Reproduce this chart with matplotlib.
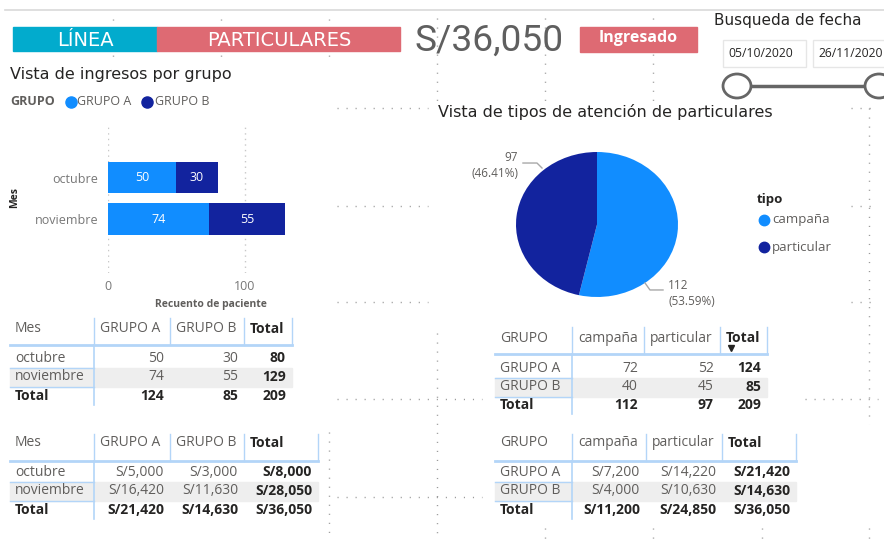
import matplotlib.pyplot as plt
from matplotlib.patches import Rectangle, Ellipse
import numpy as np

# Data

meses = ["octubre", "noviembre"]
grupos = ["GRUPO A", "GRUPO B"]
tipos = ["campaña", "particular"]

pacientes_grupo_a = [50, 74]        # per month
pacientes_grupo_b = [30, 55]
pacientes_campana = [72, 40]        # per group
pacientes_particular = [52, 45]
tipo_totales = [112, 97]

ingreso_grupo_a = [5000, 16420]     # per month
ingreso_grupo_b = [3000, 11630]
ingreso_campana = [7200, 4000]      # per group
ingreso_particular = [14220, 10630]

fechas = ["05/10/2020", "26/11/2020"]
x_ticks = [0, 100]

# Style

W, H = 884, 544
COL_A = "#118DFF"
COL_B = "#12239E"
CYAN = "#02ABCD"
ROSE = "#DE6A73"
GRAY_TXT = "#605E5C"
DARK = "#252423"
LINE_BLUE = "#B3D5F8"
BAND = "#EEEEEE"
DOT_GRAY = "#9A9A9A"

plt.rcParams["font.family"] = ["Open Sans", "DejaVu Sans"]
TITLE_FONT = ["DejaVu Sans"]

fig = plt.figure(figsize=(W / 100, H / 100), dpi=100)
cv = fig.add_axes([0, 0, 1, 1])
cv.set_xlim(0, W)
cv.set_ylim(H, 0)
cv.axis("off")


def px_axes(x0, y0, x1, y1):
    return fig.add_axes([x0 / W, 1 - y1 / H, (x1 - x0) / W, (y1 - y0) / H])


def dots(x0, y0, x1, y1):
    cv.plot([x0, x1], [y0, y1], color=DOT_GRAY, lw=1.0,
            linestyle=(0, (0.8, 5.7)), zorder=0)


def money(v):
    return f"S/{v:,}"


# Section 1: edit-mode dotted guides

for x in (113, 221, 329):
    dots(x, 19, x, 61)
for x in (437, 545, 653):
    dots(x, 18, x, 101)
for y in (108, 206, 302):
    dots(337, y, 428, y)
    dots(851, y, 878, y)
for y in (399, 497):
    dots(337, y, 482, y)
dots(805, 399, 878, 399)
dots(437, 333, 437, 540)
dots(329, 432, 329, 540)
dots(869, 108, 869, 424)
for x in (545, 653, 762, 869):
    dots(x, 528, x, 540)

cv.plot([5, W], [10, 10], color="#D9D9D9", lw=1.2)

# Section 2: header cards

cv.add_patch(Rectangle((13, 27), 144, 24, color=CYAN, zorder=2))
cv.add_patch(Rectangle((157, 27), 243, 24, color=ROSE, zorder=2))
cv.text(85.5, 40, "LÍNEA", color="white", fontsize=14, ha="center",
        va="center", family=TITLE_FONT, zorder=3)
cv.text(279, 40.5, "PARTICULARES", color="white", fontsize=14,
        ha="center", va="center", family=TITLE_FONT, zorder=3)

total_ingreso = sum(ingreso_grupo_a) + sum(ingreso_grupo_b)
cv.text(414, 41, money(total_ingreso), color="#5F5F5F", fontsize=26.7,
        ha="left", va="center", family=["Roboto"], zorder=3)

cv.add_patch(Rectangle((580, 27), 117, 25, color=ROSE, zorder=2))
cv.text(638, 38, "Ingresado", color="white", fontsize=11.5, weight="bold",
        ha="center", va="center", zorder=3)

# date slicer
cv.text(714, 21, "Busqueda de fecha", color=DARK, fontsize=11,
        ha="left", va="center", family=TITLE_FONT)
for bx, fecha in zip((723, 813), fechas):
    cv.add_patch(Rectangle((bx, 40), 83, 27, facecolor="white",
                           edgecolor="#E6E6E6", lw=1.0, zorder=2))
    cv.text(bx + 5, 53.5, fecha, color=DARK, fontsize=8.7, ha="left",
            va="center", zorder=3)
cv.plot([737, 879], [86, 86], color="#666666", lw=2.5, zorder=2)
for cx in (737, 879):
    cv.add_patch(Ellipse((cx, 86), 28, 24, facecolor="white",
                         edgecolor="#666666", lw=2, zorder=3))

# Section 3: bar chart - patients per month and group

cv.text(10, 74, "Vista de ingresos por grupo", color=DARK, fontsize=11.5,
        ha="left", va="center", family=TITLE_FONT)
cv.text(10, 101.5, "GRUPO", color=GRAY_TXT, fontsize=9, weight="bold",
        ha="left", va="center")
for (mx, tx), name, col in zip(((71, 77), (147, 155)), grupos, (COL_A, COL_B)):
    cv.plot(mx, 101.5, "o", color=col, ms=8)
    cv.text(tx, 101.5, name, color=GRAY_TXT, fontsize=9, ha="left",
            va="center")

axb = px_axes(108, 127, 314, 273)
axb.patch.set_alpha(0)
y = np.arange(len(meses))
bars_a = axb.barh(y, pacientes_grupo_a, height=0.76, color=COL_A)
bars_b = axb.barh(y, pacientes_grupo_b, left=pacientes_grupo_a, height=0.76,
                  color=COL_B)
for bars in (bars_a, bars_b):
    axb.bar_label(bars, label_type="center", color="white", fontsize=9)
axb.set_xlim(0, 150.5)
axb.set_ylim(2.30, -1.217)
axb.set_xticks(x_ticks)
axb.set_yticks(y, meses)
axb.grid(axis="x", linestyle=(0, (1, 3)), color="#C8C8C8", lw=1)
axb.set_axisbelow(True)
for s in axb.spines.values():
    s.set_visible(False)
axb.tick_params(length=0, labelsize=9, labelcolor="#777777")
axb.tick_params(axis="y", pad=7)
axb.tick_params(axis="x", pad=5)
axb.set_xlabel("Recuento de paciente", fontsize=7.5, color=GRAY_TXT,
               weight="bold", labelpad=4)
cv.text(15, 198, "Mes", rotation=90, fontsize=7.5, weight="bold",
        color=DARK, ha="center", va="center")

# Section 4: pie - attention types

cv.text(438, 111.5, "Vista de tipos de atención de particulares", color=DARK,
        fontsize=11.5, ha="left", va="center", family=TITLE_FONT)

axp = px_axes(516, 152, 678, 297)
axp.pie(tipo_totales, colors=[COL_A, COL_B], startangle=90,
        counterclock=False, radius=1)
axp.set_aspect("auto")
axp.set_xlim(-1, 1)
axp.set_ylim(-1, 1)
pct = [v / sum(tipo_totales) * 100 for v in tipo_totales]
axp.text(0.877, -0.955, f"{tipo_totales[0]}\n({pct[0]:.2f}%)", ha="left",
         va="center", color=GRAY_TXT, fontsize=8.5, linespacing=1.35,
         clip_on=False)
axp.plot([0.593, 0.654, 0.815], [-0.807, -0.903, -0.903], color="#A8A8A8",
         lw=1, clip_on=False)
axp.text(-0.975, 0.82, f"{tipo_totales[1]}\n({pct[1]:.2f}%)", ha="right",
         va="center", color=GRAY_TXT, fontsize=8.5, linespacing=1.3,
         multialignment="right", clip_on=False)
axp.plot([-0.914, -0.741, -0.679], [0.848, 0.848, 0.779], color="#A8A8A8",
         lw=1, clip_on=False)

cv.text(757, 200, "tipo", color=DARK, fontsize=9.5, weight="bold",
        ha="left", va="center")
for ly, name, col in zip((220, 247), tipos, (COL_A, COL_B)):
    cv.plot(764, ly, "o", color=col, ms=7.5)
    cv.text(772, ly, name, color=GRAY_TXT, fontsize=9.5, ha="left",
            va="center")


# Section 5: matrix tables

def draw_table(cols, head_y, head_bottom, rows_y, header, labels, data,
               fmt=str, sort_mark=False):
    x0, xr = cols[0], cols[-1]
    fs = 10
    # header separators
    for x in cols[1:]:
        cv.plot([x, x], [head_bottom - 27, head_bottom], color=LINE_BLUE,
                lw=1, zorder=2)
    cv.plot([x0, xr], [head_bottom, head_bottom], color=LINE_BLUE, lw=2,
            zorder=2)
    # band for second row
    cv.add_patch(Rectangle((x0, rows_y[1] - 9.5), xr - x0, 19, color=BAND,
                           zorder=1))
    for yy in (rows_y[1] - 9.5, rows_y[1] + 9.5):
        cv.plot([x0, cols[1]], [yy, yy], color=LINE_BLUE, lw=1, zorder=2)
    cv.plot([cols[1], cols[1]], [head_bottom, rows_y[2] + 9], color=LINE_BLUE,
            lw=1.2, zorder=2)
    # header text
    for i, name in enumerate(header):
        bold = name == "Total"
        cv.text(cols[i] + (5 if i == 0 else 6), head_y, name,
                color=DARK if bold else GRAY_TXT, fontsize=fs,
                weight="bold" if bold else "normal", ha="left", va="center",
                zorder=3)
    if sort_mark:
        cv.plot(cols[3] + 11, head_bottom - 6, "v", color=DARK, ms=4,
                zorder=3)
    # body
    col_a, col_b = data
    totals_row = [sum(col_a), sum(col_b), sum(col_a) + sum(col_b)]
    body = [[a, b, a + b] for a, b in zip(col_a, col_b)] + [totals_row]
    for r, (ry, lab, vals) in enumerate(zip(rows_y, labels + ["Total"], body)):
        last = r == len(rows_y) - 1
        cv.text(cols[0] + 5, ry, lab, color=DARK if last else GRAY_TXT,
                fontsize=fs, weight="bold" if last else "normal",
                ha="left", va="center", zorder=3)
        for c, v in enumerate(vals):
            bold = last or c == 2
            cv.text(cols[c + 2] - 6, ry, fmt(v),
                    color=DARK if bold else GRAY_TXT, fontsize=fs,
                    weight="bold" if bold else "normal", ha="right",
                    va="center", zorder=3)


draw_table([10, 94, 170, 244, 292], 329, 345, [358, 377, 396],
           ["Mes"] + grupos + ["Total"], meses,
           (pacientes_grupo_a, pacientes_grupo_b))
draw_table([495, 572, 644, 720, 767], 338, 354, [368, 387, 405],
           ["GRUPO"] + tipos + ["Total"], grupos,
           (pacientes_campana, pacientes_particular), sort_mark=True)
draw_table([10, 94, 170, 244, 318], 443, 461, [472, 491, 510],
           ["Mes"] + grupos + ["Total"], meses,
           (ingreso_grupo_a, ingreso_grupo_b), fmt=money)
draw_table([495, 572, 646, 722, 796], 443, 461, [472, 491, 510],
           ["GRUPO"] + tipos + ["Total"], grupos,
           (ingreso_campana, ingreso_particular), fmt=money)

fig.savefig("out.png", dpi=100)
